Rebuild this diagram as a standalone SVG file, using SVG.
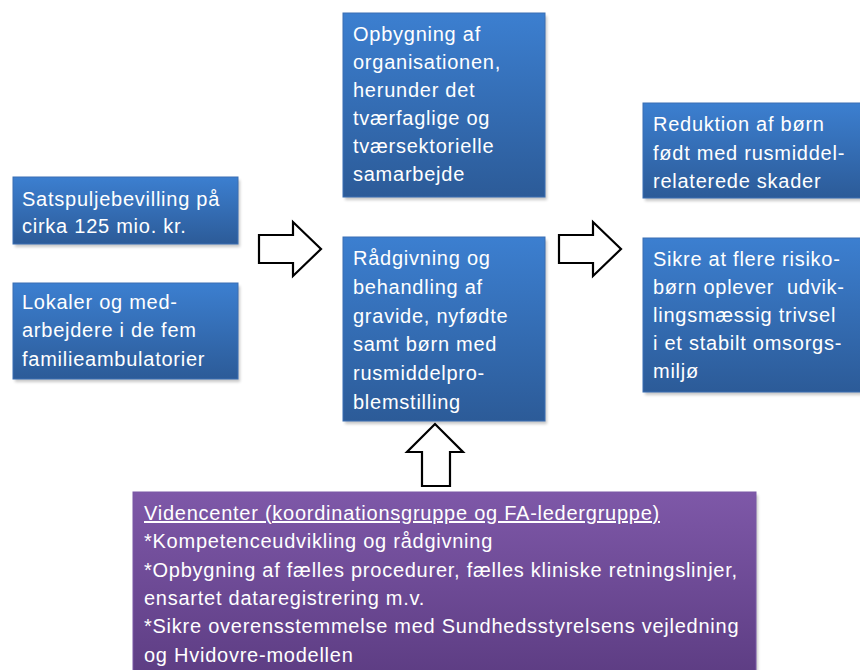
<svg xmlns="http://www.w3.org/2000/svg" width="860" height="670" viewBox="0 0 860 670">
<style>
.t{font-family:"Liberation Sans",Arial,sans-serif;font-size:20px;fill:#ffffff;letter-spacing:0.75px;white-space:pre}
.blue{fill:url(#gb);stroke:#3a6fb3;stroke-width:1}
.purple{fill:url(#gp);stroke:#7a58a6;stroke-width:1}
.sh{fill:#000;opacity:0.22;filter:url(#blur)}
.arr{fill:#ffffff;stroke:#000000;stroke-width:2.2;stroke-linejoin:miter}
</style>
<defs>
<linearGradient id="gb" x1="0" y1="0" x2="0" y2="1">
<stop offset="0" stop-color="#3c7fd0"/>
<stop offset="1" stop-color="#2c5b98"/>
</linearGradient>
<linearGradient id="gp" x1="0" y1="0" x2="0" y2="1">
<stop offset="0" stop-color="#7e58a8"/>
<stop offset="1" stop-color="#5c3c82"/>
</linearGradient>
<filter id="blur" x="-10%" y="-10%" width="120%" height="120%"><feGaussianBlur stdDeviation="1.5"/></filter>
</defs>

<g id="n-sats">
<rect class="sh" x="15" y="180" width="225" height="67"/>
<rect class="blue" x="13" y="177" width="225" height="67"/>
<text class="t"><tspan x="22" y="206">Satspuljebevilling på</tspan><tspan x="22" y="233">cirka 125 mio. kr.</tspan></text>
</g>

<g id="n-lokaler">
<rect class="sh" x="15" y="286" width="225" height="96"/>
<rect class="blue" x="13" y="283" width="225" height="96"/>
<text class="t"><tspan x="22" y="309">Lokaler og med-</tspan><tspan x="22" y="337">arbejdere i de fem</tspan><tspan x="22" y="366">familieambulatorier</tspan></text>
</g>

<g id="n-opbygning">
<rect class="sh" x="345" y="16" width="202" height="184"/>
<rect class="blue" x="343" y="13" width="202" height="184"/>
<text class="t"><tspan x="353" y="41">Opbygning af</tspan><tspan x="353" y="69">organisationen,</tspan><tspan x="353" y="97">herunder det</tspan><tspan x="353" y="125">tværfaglige og</tspan><tspan x="353" y="153">tværsektorielle</tspan><tspan x="353" y="181">samarbejde</tspan></text>
</g>

<g id="n-raadgivning">
<rect class="sh" x="345" y="240" width="202" height="184"/>
<rect class="blue" x="343" y="237" width="202" height="184"/>
<text class="t"><tspan x="353" y="265">Rådgivning og</tspan><tspan x="353" y="294">behandling af</tspan><tspan x="353" y="323">gravide, nyfødte</tspan><tspan x="353" y="351">samt børn med</tspan><tspan x="353" y="380">rusmiddelpro-</tspan><tspan x="353" y="409">blemstilling</tspan></text>
</g>

<g id="n-reduktion">
<rect class="sh" x="645" y="106" width="220" height="95"/>
<rect class="blue" x="643" y="103" width="220" height="95"/>
<text class="t"><tspan x="653" y="131">Reduktion af børn</tspan><tspan x="653" y="160">født med rusmiddel-</tspan><tspan x="653" y="188">relaterede skader</tspan></text>
</g>

<g id="n-sikre">
<rect class="sh" x="645" y="241" width="220" height="154"/>
<rect class="blue" x="643" y="238" width="220" height="154"/>
<text class="t"><tspan x="653" y="266">Sikre at flere risiko-</tspan><tspan x="653" y="294">børn oplever  udvik-</tspan><tspan x="653" y="322">lingsmæssig trivsel</tspan><tspan x="653" y="350">i et stabilt omsorgs-</tspan><tspan x="653" y="378">miljø</tspan></text>
</g>

<g id="n-videncenter">
<rect class="sh" x="135" y="495" width="623" height="190"/>
<rect class="purple" x="133" y="492" width="623" height="190"/>
<text class="t"><tspan x="144" y="520" text-decoration="underline">Videncenter (koordinationsgruppe og FA-ledergruppe)</tspan><tspan x="144" y="548">*Kompetenceudvikling og rådgivning</tspan><tspan x="144" y="577">*Opbygning af fælles procedurer, fælles kliniske retningslinjer,</tspan><tspan x="144" y="605">ensartet dataregistrering m.v.</tspan><tspan x="144" y="633">*Sikre overensstemmelse med Sundhedsstyrelsens vejledning</tspan><tspan x="144" y="662">og Hvidovre-modellen</tspan></text>
</g>

<g id="connectors">
<polygon class="arr" points="259,235 293,235 293,222 321,249 293,276 293,263 259,263"/>
<polygon class="arr" points="559,235 593,235 593,222 621,249 593,276 593,263 559,263"/>
<polygon class="arr" points="422,486 422,452 407,452 435,424 463,452 450,452 450,486"/>
</g>
</svg>
